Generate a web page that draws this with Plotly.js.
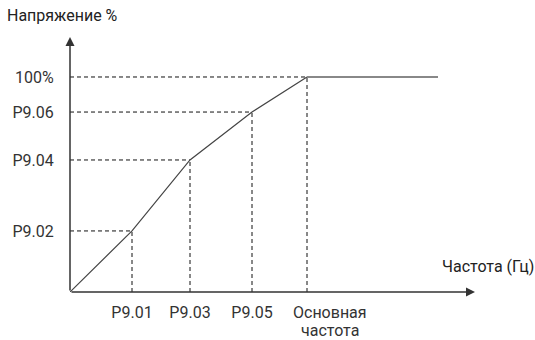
<!DOCTYPE html>
<html><head><meta charset="utf-8">
<script src="https://cdn.plot.ly/plotly-3.0.1.min.js"></script>
<style>body{margin:0;background:#fff}#c{width:535px;height:340px}</style>
</head><body><div id="c"></div>
<script>
// Break points of the V/F curve (frequency units, voltage %)
const freqPts = [0, 12.4, 24, 36.4, 47.4];
const voltPts = [0, 28.4, 61.4, 83.7, 100];
const flatEnd = 73.6;
const xTickLabels = ["P9.01", "P9.03", "P9.05", "Основная<br>частота"];
const yTickLabels = ["P9.02", "P9.04", "P9.06", "100%"];
const yTitle = "Напряжение %";
const xTitle = "Частота (Гц)";

const FONT = "Roboto, Liberation Sans, Arial, sans-serif";
const xMax = 81, yMax = 118.6;

const traces = [];
// dashed guides
for (let i = 1; i < freqPts.length; i++) {
  traces.push({x:[freqPts[i], freqPts[i]], y:[0, voltPts[i]], mode:'lines',
    line:{color:'#111', width:1, dash:'4px,3px'}, hoverinfo:'skip', showlegend:false});
  traces.push({x:[0, freqPts[i]], y:[voltPts[i], voltPts[i]], mode:'lines',
    line:{color:'#111', width:1, dash:'4px,3px'}, hoverinfo:'skip', showlegend:false});
}
// curve
traces.push({x:freqPts, y:voltPts, mode:'lines', line:{color:'#444', width:1.2}, showlegend:false});
traces.push({x:[freqPts[freqPts.length-1], flatEnd], y:[100, 100], mode:'lines', line:{color:'#888', width:2}, showlegend:false});

const nX = xTickLabels.length;
const lastLines = xTickLabels[nX-1].split('<br>');
const annotations = [
  {x:xMax, y:0, ax:0, ay:0, xref:'x', yref:'y', axref:'x', ayref:'y', text:'', showarrow:true,
   arrowhead:2, arrowsize:1.2, arrowwidth:1.5, arrowcolor:'#333'},
  {x:0, y:yMax, ax:0, ay:0, xref:'x', yref:'y', axref:'x', ayref:'y', text:'', showarrow:true,
   arrowhead:2, arrowsize:1.2, arrowwidth:1.5, arrowcolor:'#333'},
  {xref:'paper', yref:'paper', x:-0.16, y:1.0, xanchor:'left', yanchor:'bottom', yshift:10,
   text:yTitle, showarrow:false, font:{family:FONT, size:16, color:'#222'}},
  {xref:'paper', yref:'y', x:1.15, y:0, xanchor:'right', yanchor:'bottom', yshift:14,
   text:xTitle, showarrow:false, font:{family:FONT, size:16, color:'#222'}}
];
lastLines.forEach((t, k) => annotations.push(
  {x:freqPts[nX], y:0, xref:'x', yref:'y', xanchor:'center', yanchor:'top', xshift:23, yshift:-10 - 18*k,
   borderpad:0, text:t, showarrow:false, font:{family:FONT, size:16, color:'#333'}}));

const layout = {
  width:535, height:340,
  margin:{l:70, r:60, t:37, b:48},
  paper_bgcolor:'#fff', plot_bgcolor:'#fff',
  font:{family:FONT, size:16, color:'#333'},
  xaxis:{range:[0, xMax], showgrid:false, zeroline:false, showline:false, tickangle:0,
    tickvals:freqPts.slice(1, nX), ticktext:xTickLabels.slice(0, nX-1), ticks:'outside', ticklen:6, tickcolor:'rgba(0,0,0,0)', fixedrange:true},
  yaxis:{range:[0, yMax], showgrid:false, zeroline:false, showline:false,
    tickvals:voltPts.slice(1), ticktext:yTickLabels, ticks:'outside', ticklen:12, tickcolor:'rgba(0,0,0,0)', fixedrange:true},
  annotations:annotations
};
Plotly.newPlot('c', traces, layout, {displayModeBar:false, staticPlot:true});
</script></body></html>
